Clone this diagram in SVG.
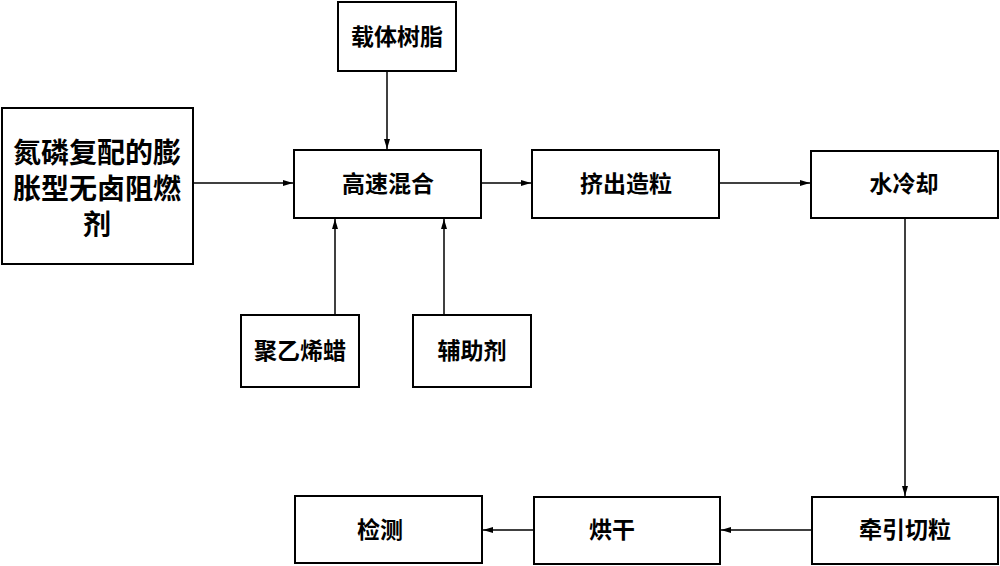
<svg xmlns="http://www.w3.org/2000/svg" width="1000" height="566" viewBox="0 0 1000 566">
<defs>
<marker id="arr" viewBox="0 0 10 6" refX="10" refY="3" markerWidth="10" markerHeight="6" markerUnits="userSpaceOnUse" orient="auto">
<path d="M0,0 L10,3 L0,6 Z" fill="#000"/>
</marker>
</defs>
<style>
.box{fill:#fff;stroke:#000;stroke-width:2}
.t{font-family:"Liberation Sans","Noto Sans CJK SC","Noto Sans CJK JP",sans-serif;font-size:23px;font-weight:bold;fill:#000;text-anchor:middle;dominant-baseline:central}
.big{font-size:28px}
.c{fill:none;stroke:#000;stroke-width:1.5;marker-end:url(#arr)}
</style>
<rect width="1000" height="566" fill="#fff"/>
<g id="n-flame">
<rect class="box" x="2" y="108" width="191" height="156"/>
<text class="t big" x="97" y="153">氮磷复配的膨</text>
<text class="t big" x="97" y="189">胀型无卤阻燃</text>
<text class="t big" x="97" y="225">剂</text>
</g>
<g id="n-resin">
<rect class="box" x="338" y="2" width="118" height="69"/>
<text class="t" x="397" y="37">载体树脂</text>
</g>
<g id="n-mix">
<rect class="box" x="294" y="150" width="187" height="68"/>
<text class="t" x="388" y="184">高速混合</text>
</g>
<g id="n-extrude">
<rect class="box" x="532" y="150" width="187" height="68"/>
<text class="t" x="626" y="184">挤出造粒</text>
</g>
<g id="n-cool">
<rect class="box" x="811" y="151" width="187" height="67"/>
<text class="t" x="904" y="184">水冷却</text>
</g>
<g id="n-wax">
<rect class="box" x="241" y="315" width="118" height="72"/>
<text class="t" x="300" y="351">聚乙烯蜡</text>
</g>
<g id="n-aux">
<rect class="box" x="413" y="315" width="118" height="72"/>
<text class="t" x="472" y="351">辅助剂</text>
</g>
<g id="n-cut">
<rect class="box" x="812" y="497" width="186" height="67"/>
<text class="t" x="905" y="530">牵引切粒</text>
</g>
<g id="n-dry">
<rect class="box" x="534" y="497" width="186" height="67"/>
<text class="t" x="612" y="530">烘干</text>
</g>
<g id="n-test">
<rect class="box" x="295" y="496" width="187" height="67"/>
<text class="t" x="380" y="530">检测</text>
</g>
<g id="connectors">
<line class="c" x1="193" y1="183" x2="293" y2="183"/>
<line class="c" x1="387" y1="71" x2="387" y2="149"/>
<line class="c" x1="335" y1="315" x2="335" y2="219"/>
<line class="c" x1="444" y1="315" x2="444" y2="219"/>
<line class="c" x1="481" y1="183" x2="531" y2="183"/>
<line class="c" x1="719" y1="183" x2="810" y2="183"/>
<line class="c" x1="905" y1="218" x2="905" y2="496"/>
<line class="c" x1="812" y1="530" x2="721" y2="530"/>
<line class="c" x1="534" y1="530" x2="483" y2="530"/>
</g>
</svg>
